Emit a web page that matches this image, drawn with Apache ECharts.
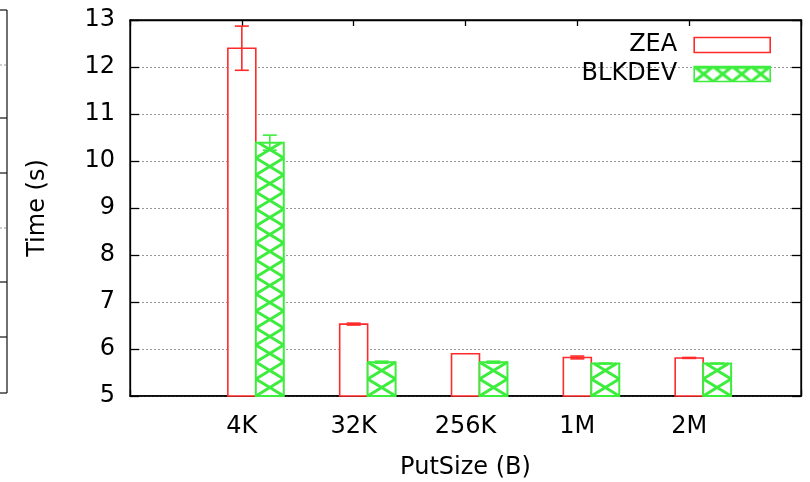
<!DOCTYPE html>
<html>
<head>
<meta charset="utf-8">
<script src="https://cdn.jsdelivr.net/npm/echarts@6/dist/echarts.min.js"></script>
<style>
  html, body { margin: 0; padding: 0; background: #fff; }
  #chart { width: 810px; height: 482px; }
</style>
</head>
<body>
<div id="chart"></div>
<script>
// Put completion time per put size, two backends, with error bars
const categories   = ['4K', '32K', '256K', '1M', '2M'];
const zeaValues    = [12.40, 6.53, 5.90, 5.82, 5.81];
const zeaErrors    = [0.47, 0.02, 0.00, 0.03, 0.01];
const blkdevValues = [10.39, 5.72, 5.72, 5.69, 5.69];
const blkdevErrors = [0.16, 0.02, 0.02, 0.01, 0.01];
const yMin = 5, yMax = 13, yStep = 1;

const FONT = 'DejaVu Sans';
const FS = 24;
const RED = '#ff2a2a';
const GREEN = '#3ded3d';
const BAR_W = 0.25;      // width of one bar in axis units
const HATCH_H = 17;      // vertical period of the cross hatch, px

// category i sits at x = i + 1; ZEA centred on the tick, BLKDEV right next to it
const zeaData = categories.map((c, i) => [i + 1, zeaValues[i], zeaErrors[i]]);
const blkData = categories.map((c, i) => [i + 1 + BAR_W, blkdevValues[i], blkdevErrors[i]]);

function errorBar(api, x, v, e, color) {
  if (!e) return [];
  const top = api.coord([x, v + e]);
  const bot = api.coord([x, v - e]);
  const capHalf = 7;
  const style = { stroke: color, lineWidth: 1.6 };
  return [
    { type: 'line', shape: { x1: top[0], y1: top[1], x2: bot[0], y2: bot[1] }, style },
    { type: 'line', shape: { x1: top[0] - capHalf, y1: top[1], x2: top[0] + capHalf, y2: top[1] }, style },
    { type: 'line', shape: { x1: bot[0] - capHalf, y1: bot[1], x2: bot[0] + capHalf, y2: bot[1] }, style }
  ];
}

function hatchLines(x0, x1, yT, yB, h, color) {
  const out = [];
  const style = { stroke: color, lineWidth: 3 };
  for (let k = 0; yB - k * h > yT + 0.01; k++) {
    const ys = yB - k * h;
    let t = 1;
    if (ys - h < yT) t = (ys - yT) / h;
    const ye = ys - t * h;
    const dx = (x1 - x0) * t;
    out.push({ type: 'line', shape: { x1: x0, y1: ys, x2: x0 + dx, y2: ye }, style });
    out.push({ type: 'line', shape: { x1: x1, y1: ys, x2: x1 - dx, y2: ye }, style });
  }
  return out;
}

function renderZea(params, api) {
  const x = api.value(0), v = api.value(1), e = api.value(2);
  const tl = api.coord([x - BAR_W / 2, v]);
  const br = api.coord([x + BAR_W / 2, yMin]);
  const children = [{
    type: 'rect',
    shape: { x: tl[0], y: tl[1], width: br[0] - tl[0], height: br[1] - tl[1] },
    style: { fill: '#fff', stroke: RED, lineWidth: 1.6 }
  }].concat(errorBar(api, x, v, e, RED));
  return { type: 'group', children };
}

function renderBlk(params, api) {
  const x = api.value(0), v = api.value(1), e = api.value(2);
  const tl = api.coord([x - BAR_W / 2, v]);
  const br = api.coord([x + BAR_W / 2, yMin]);
  const children = [{
    type: 'rect',
    shape: { x: tl[0], y: tl[1], width: br[0] - tl[0], height: br[1] - tl[1] },
    style: { fill: '#fff', stroke: GREEN, lineWidth: 2 }
  }].concat(hatchLines(tl[0], br[0], tl[1], br[1], HATCH_H, GREEN))
    .concat(errorBar(api, x, v, e, GREEN));
  return { type: 'group', children };
}

// hatch tile for the legend swatch
const tile = document.createElement('canvas');
tile.width = 19; tile.height = 15;
(function () {
  const g = tile.getContext('2d');
  g.fillStyle = '#fff'; g.fillRect(0, 0, 19, 15);
  g.strokeStyle = GREEN; g.lineWidth = 3;
  g.beginPath();
  g.moveTo(0, 0); g.lineTo(19, 15);
  g.moveTo(19, 0); g.lineTo(0, 15);
  g.moveTo(0, 1); g.lineTo(19, 1);
  g.stroke();
})();

const chart = echarts.init(document.getElementById('chart'), null, { renderer: 'canvas' });

const tickLabel = v => {
  const i = Math.round(v) - 1;
  return (Math.abs(v - Math.round(v)) < 1e-6 && i >= 0 && i < categories.length) ? categories[i] : '';
};

chart.setOption({
  animation: false,
  backgroundColor: '#fff',
  textStyle: { fontFamily: FONT },
  grid: {
    left: 130, right: 9, top: 20, bottom: 86,
    outerBoundsMode: 'none',
    show: true, borderColor: '#000', borderWidth: 1.3, backgroundColor: 'transparent'
  },
  legend: {
    orient: 'vertical',
    align: 'right',
    right: 39, top: 33,
    padding: 0,
    itemWidth: 76, itemHeight: 15, itemGap: 5,
    icon: 'rect',
    textStyle: { fontFamily: FONT, fontSize: FS, color: '#000', padding: [0, 12, 0, 0] },
    data: [
      { name: 'ZEA', itemStyle: { color: '#fff', borderColor: RED, borderWidth: 1.6 } },
      { name: 'BLKDEV', itemStyle: { color: { image: tile, repeat: 'repeat' }, borderColor: GREEN, borderWidth: 1.6 } }
    ]
  },
  xAxis: [{
    type: 'value', min: 0, max: 6, interval: 1,
    name: 'PutSize (B)', nameLocation: 'middle', nameGap: 60,
    nameTextStyle: { fontFamily: FONT, fontSize: FS, color: '#000' },
    axisLine: { show: true, onZero: false, lineStyle: { color: '#000', width: 1.6 } },
    axisTick: { show: true, inside: true, length: 6, lineStyle: { color: '#000', width: 1.3 } },
    axisLabel: { fontFamily: FONT, fontSize: FS, color: '#000', margin: 19, formatter: tickLabel },
    splitLine: { show: false }
  }, {
    type: 'value', position: 'top', min: 0, max: 6, interval: 1,
    axisLine: { show: true, onZero: false, lineStyle: { color: '#000', width: 1.3 } },
    axisTick: { show: true, inside: true, length: 6, lineStyle: { color: '#000', width: 1.3 } },
    axisLabel: { show: false },
    splitLine: { show: false }
  }],
  yAxis: [{
    type: 'value', min: yMin, max: yMax, interval: yStep,
    name: 'Time (s)', nameLocation: 'middle', nameGap: 80,
    nameTextStyle: { fontFamily: FONT, fontSize: FS, color: '#000' },
    axisLine: { show: true, onZero: false, lineStyle: { color: '#000', width: 1.3 } },
    axisTick: { show: true, inside: true, length: 9, lineStyle: { color: '#000', width: 1.3 } },
    axisLabel: { fontFamily: FONT, fontSize: FS, color: '#000', margin: 15 },
    splitLine: { show: true, lineStyle: { color: '#999', width: 1, type: [2, 2] } }
  }, {
    type: 'value', position: 'right', min: yMin, max: yMax, interval: yStep,
    axisLine: { show: true, onZero: false, lineStyle: { color: '#000', width: 1.3 } },
    axisTick: { show: true, inside: true, length: 9, lineStyle: { color: '#000', width: 1.3 } },
    axisLabel: { show: false },
    splitLine: { show: false }
  }],
  graphic: [
    // edge of the neighbouring panel on the left
    { type: 'line', shape: { x1: 7, y1: 10, x2: 7, y2: 393 }, style: { stroke: '#222', lineWidth: 1.3 } },
    ...[10, 118, 173, 282, 337, 393].map(y => ({
      type: 'line', shape: { x1: 0, y1: y, x2: 7, y2: y }, style: { stroke: '#222', lineWidth: 1.3 }
    })),
    ...[65, 228].map(y => ({
      type: 'line', shape: { x1: 0, y1: y, x2: 6, y2: y }, style: { stroke: '#999', lineWidth: 1, lineDash: [2, 2] }
    }))
  ],
  series: [
    { name: 'ZEA', type: 'custom', renderItem: renderZea, data: zeaData,
      encode: { x: 0, y: 1 }, itemStyle: { color: RED }, z: 3 },
    { name: 'BLKDEV', type: 'custom', renderItem: renderBlk, data: blkData,
      encode: { x: 0, y: 1 }, itemStyle: { color: GREEN }, z: 3 }
  ]
});
</script>
</body>
</html>
